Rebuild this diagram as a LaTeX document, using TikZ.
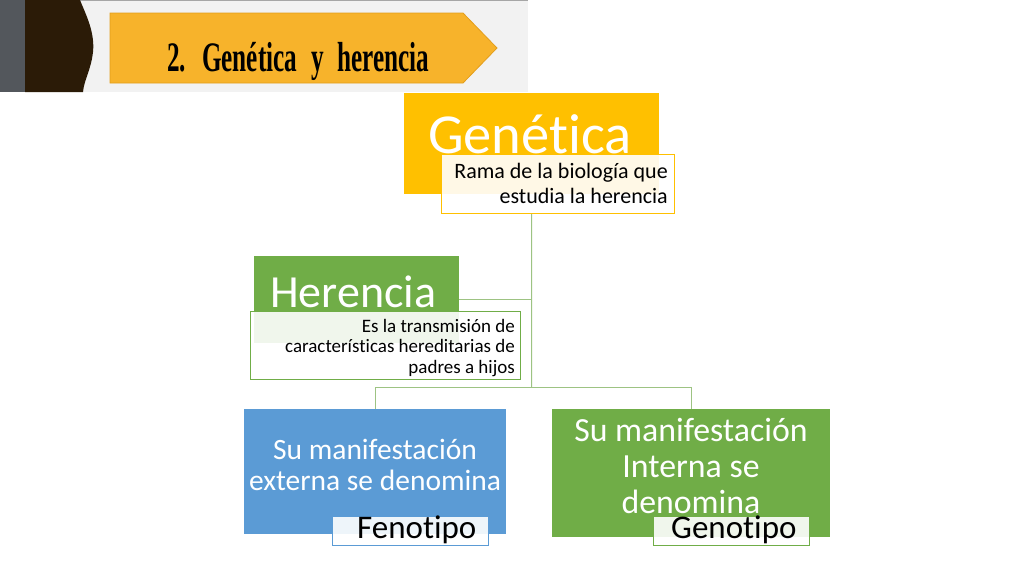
\documentclass[tikz,border=0pt]{standalone}
\usepackage{fontspec}
\setmainfont{Carlito}[RawFeature={-liga}]
\newfontfamily\headfont[FakeStretch=0.6,WordSpace=2.2]{Liberation Serif Bold}
\definecolor{cyel}{HTML}{FFC000}
\definecolor{cgrn}{HTML}{70AD47}
\definecolor{cblu}{HTML}{5B9BD5}
\definecolor{cconn}{HTML}{9DC383}
\definecolor{cban}{HTML}{F7B32B}
\definecolor{cbanb}{HTML}{E39E1C}
\definecolor{chbg}{HTML}{F2F2F2}
\definecolor{cstrip}{HTML}{53575C}
\definecolor{cbrown}{HTML}{2B1B07}
\tikzset{
  panel/.style={draw=none, inner sep=0pt, anchor=north west},
  tbox/.style={fill=white, fill opacity=0.9, line width=1.1pt, inner sep=0pt, anchor=north west},
  conn/.style={draw=cconn, line width=1pt},
  wtext/.style={text=white, inner sep=0pt},
  btext/.style={text=black, inner sep=0pt}
}
\begin{document}
\begin{tikzpicture}[x=1pt,y=-1pt]
\useasboundingbox (0,0) rectangle (1024,576);
\fill[white] (0,0) rectangle (1024,576);
% header
\fill[chbg] (25,0) rectangle (528,92);
\draw[gray!70, line width=1pt] (80,0.5) -- (528,0.5);
\fill[cstrip] (0,0) rectangle (25,92);
\fill[cbrown] (25,0) -- (80,0) .. controls (86,15) and (95,32) .. (93,52)
  .. controls (91,70) and (84,80) .. (83,92) -- (25,92) -- cycle;
\filldraw[fill=cban, draw=cbanb, line width=0.8pt] (110,13) -- (463,13) -- (497,48) -- (463,83) -- (110,83) -- cycle;
\node[btext, anchor=base west, font=\headfont\fontsize{42}{42}\selectfont] (title) at (167,71) {2. Genética y herencia};
% panels
\node[panel, fill=cyel, minimum width=255pt, minimum height=101pt] (gen) at (404,93) {};
\node[panel, fill=cgrn, minimum width=205pt, minimum height=87pt] (her) at (254,256) {};
\node[panel, fill=cblu, minimum width=262pt, minimum height=125pt] (blu) at (244,409) {};
\node[panel, fill=cgrn, minimum width=278pt, minimum height=128pt] (grn) at (552,409) {};
% panel titles
\node[wtext, anchor=base west, font=\fontsize{56.5}{56}\selectfont] (gent) at (428,153) {Genética};
\node[wtext, anchor=base west, font=\fontsize{46}{46}\selectfont] (hert) at (270,307) {Herencia};
\node[wtext, anchor=base, align=center, font=\fontsize{29.5}{31}\selectfont] (blut) at (375,490) {Su manifestación\\externa se denomina};
\node[wtext, anchor=base, align=center, font=\fontsize{33.8}{36}\selectfont] (grnt) at (691,513) {Su manifestación\\Interna se\\denomina};
% text boxes
\node[tbox, draw=cyel, minimum width=233pt, minimum height=59pt] (rama) at (441,154) {};
\node[tbox, draw=cgrn, minimum width=270pt, minimum height=68pt] (herb) at (250,311) {};
\node[tbox, draw=cblu, minimum width=156pt, minimum height=29pt] (feno) at (332,516) {};
\node[tbox, draw=cgrn, minimum width=156pt, minimum height=29pt] (geno) at (653,516) {};
\node[btext, anchor=base east, align=right, font=\fontsize{22}{25}\selectfont] (ramat) at (668,203) {Rama de la biología que\\estudia la herencia};
\node[btext, anchor=base east, align=right, font=\fontsize{19}{20.5}\selectfont] (herbt) at (515,373) {Es la transmisión de\\características hereditarias de\\padres a hijos};
\node[btext, anchor=base west, font=\fontsize{33}{33}\selectfont] (fenot) at (357,538) {Fenotipo};
\node[btext, anchor=base west, font=\fontsize{33}{33}\selectfont] (genot) at (671,538) {Genotipo};
% connectors
\coordinate (j) at (531.5,387);
\draw[conn] (gen.center |- rama.south) -- (j);
\draw[conn] (her.east) -- (her.east -| j);
\draw[conn] (blu.north) -- (blu.north |- j) -- (grn.north |- j) -- (grn.north);
\end{tikzpicture}
\end{document}
